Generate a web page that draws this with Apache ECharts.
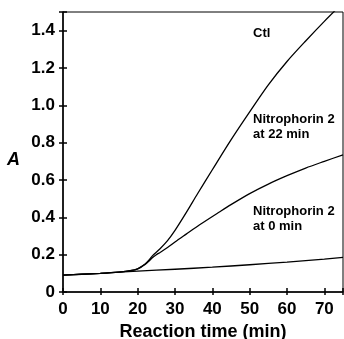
<!DOCTYPE html>
<html>
<head>
<meta charset="utf-8">
<script src="https://cdn.jsdelivr.net/npm/echarts@6/dist/echarts.min.js"></script>
<style>
  html, body { margin: 0; padding: 0; background: #fff; }
  #chart { width: 344px; height: 339px; }
</style>
</head>
<body>
<div id="chart"></div>
<script>
// reaction time (min) / absorbance
const ctlTime = [0, 5, 10, 15, 18, 20, 22, 23, 24, 26, 28, 30, 33, 36, 40, 45, 50, 55, 60, 65, 70, 75]
const ctlAbs = [0.09, 0.095, 0.1, 0.107, 0.114, 0.124, 0.15, 0.17, 0.195, 0.232, 0.275, 0.33, 0.425, 0.525, 0.655, 0.815, 0.965, 1.11, 1.235, 1.345, 1.45, 1.55]

const np22Time = [0, 5, 10, 15, 18, 20, 22, 23, 24, 25, 26, 28, 30, 33, 36.6, 42, 45, 50, 55, 60, 65, 70, 75]
const np22Abs = [0.09, 0.095, 0.1, 0.107, 0.114, 0.124, 0.148, 0.165, 0.185, 0.2, 0.212, 0.238, 0.268, 0.31, 0.36, 0.43, 0.468, 0.527, 0.578, 0.623, 0.664, 0.7, 0.735]

const np0Time = [0, 10, 20, 30, 40, 50, 60, 70, 75]
const np0Abs = [0.09, 0.1, 0.112, 0.122, 0.133, 0.146, 0.16, 0.176, 0.185]

const curveLabels = [
  { text: 'Ctl', left: 253, top: 26 },
  { text: 'Nitrophorin 2\nat 22 min', left: 253, top: 112 },
  { text: 'Nitrophorin 2\nat 0 min', left: 253, top: 204 }
]

const zip = (xs, ys) => xs.map((x, i) => [x, ys[i]])

const chart = echarts.init(document.getElementById('chart'), null, { renderer: 'canvas' })

const tickFont = { fontFamily: 'Liberation Sans', fontWeight: 'bold', fontSize: 17, color: '#000' }
const lineStyle = { color: '#000', width: 1.3 }

const lineSeries = (data) => ({
  type: 'line',
  data,
  showSymbol: false,
  smooth: 0.3,
  lineStyle,
  clip: true,
  silent: true
})

chart.setOption({
  animation: false,
  grid: {
    left: 63, right: 1, top: 12, bottom: 47,
    outerBoundsMode: 'none',
    show: true, borderColor: '#000', borderWidth: 1
  },
  xAxis: [
    {
      type: 'value', min: 0, max: 75, interval: 10,
      axisLine: { lineStyle: { color: '#000', width: 1.5 } },
      axisTick: { inside: true, length: 4, lineStyle: { color: '#000', width: 1.5 } },
      splitLine: { show: false },
      axisLabel: Object.assign({ margin: 9, formatter: v => (v > 72 ? '' : String(v)) }, tickFont),
      name: 'Reaction time (min)',
      nameLocation: 'middle',
      nameGap: 28,
      nameTextStyle: { fontFamily: 'Liberation Sans', fontWeight: 'bold', fontSize: 18, color: '#000' }
    },
    {
      type: 'value', min: 0, max: 75, interval: 10, position: 'bottom',
      axisLine: { show: false },
      axisTick: { inside: false, length: 3, lineStyle: { color: '#000', width: 1.5 } },
      axisLabel: { show: false },
      splitLine: { show: false }
    }
  ],
  yAxis: [
    {
      type: 'value', min: 0, max: 1.5, interval: 0.2,
      axisLine: { show: true, lineStyle: { color: '#000', width: 1.5 } },
      axisTick: { show: true, inside: true, length: 4, lineStyle: { color: '#000', width: 1.5 } },
      splitLine: { show: false },
      axisLabel: Object.assign({
        margin: 8,
        formatter: v => (v > 1.45 ? '' : v === 0 ? '0' : v.toFixed(1))
      }, tickFont)
    },
    {
      type: 'value', min: 0, max: 1.5, interval: 0.2, position: 'left',
      axisLine: { show: false },
      axisTick: { show: true, inside: false, length: 4, lineStyle: { color: '#000', width: 1.5 } },
      axisLabel: { show: false },
      splitLine: { show: false }
    }
  ],
  series: [
    lineSeries(zip(ctlTime, ctlAbs)),
    lineSeries(zip(np22Time, np22Abs)),
    lineSeries(zip(np0Time, np0Abs))
  ],
  graphic: [
    {
      type: 'text', left: 7, top: 151,
      style: { text: 'A', fontFamily: 'Liberation Sans', fontStyle: 'italic', fontWeight: 'bold', fontSize: 18, fill: '#000' }
    }
  ].concat(curveLabels.map(l => ({
    type: 'text', left: l.left, top: l.top,
    style: { text: l.text, fontFamily: 'Liberation Sans', fontWeight: 'bold', fontSize: 13, lineHeight: 15, fill: '#000' }
  })))
})

window.addEventListener('resize', () => {
  chart.resize()
})
</script>
</body>
</html>
